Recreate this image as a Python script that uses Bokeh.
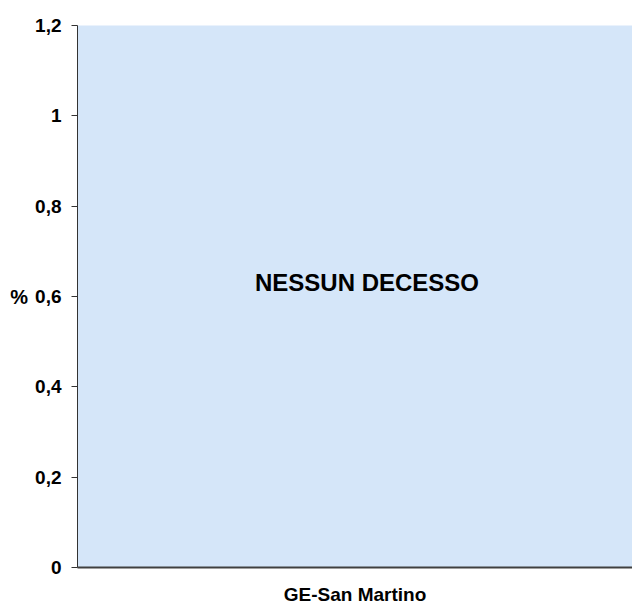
from bokeh.plotting import figure
from bokeh.models import FactorRange, Range1d, FixedTicker, CustomJSTickFormatter, ColumnDataSource
from bokeh.core.properties import value
from bokeh.embed import file_html
from bokeh.resources import INLINE

# ---- data ----
categories = ["GE-San Martino"]
deaths_pct = [0.0]
y_ticks = [0, 0.2, 0.4, 0.6, 0.8, 1.0, 1.2]
y_label = "%"
note_text = ["NESSUN DECESSO"]
note_y = [0.63]

FONT = "Liberation Sans"

p = figure(
    width=632, height=608,
    x_range=FactorRange(*categories, range_padding=0),
    y_range=Range1d(0, 1.2),
    output_backend="svg", toolbar_location=None,
    min_border_left=77, min_border_right=0, min_border_top=25, min_border_bottom=41,
)
p.background_fill_color = "#d5e6f9"
p.border_fill_color = "white"
p.outline_line_color = None
p.xgrid.grid_line_color = None
p.ygrid.grid_line_color = None

src = ColumnDataSource(dict(cat=categories, val=deaths_pct))
p.vbar(x="cat", top="val", width=0.6, source=src, fill_color="#3366cc", line_color=None)

p.text(x=categories, y=note_y, text=note_text, text_align="center", text_baseline="middle",
       text_font=value(FONT), text_font_style="bold", text_font_size="24px",
       text_color="black", x_offset=12)

# y axis
p.yaxis.ticker = FixedTicker(ticks=y_ticks)
p.yaxis.formatter = CustomJSTickFormatter(code="return (Math.round(tick*10)/10).toString().replace('.', ',');")
p.yaxis.minor_tick_line_color = None
p.yaxis.major_tick_in = 0
p.yaxis.major_tick_out = 6
p.yaxis.major_tick_line_color = "#333333"
p.yaxis.axis_line_color = "#333333"
p.yaxis.major_label_text_font = FONT
p.yaxis.major_label_text_font_style = "bold"
p.yaxis.major_label_text_font_size = "19px"
p.yaxis.major_label_text_color = "black"
p.yaxis.major_label_standoff = 10
p.yaxis.axis_label = y_label
p.yaxis.axis_label_orientation = "horizontal"
p.yaxis.axis_label_text_font = FONT
p.yaxis.axis_label_text_font_style = "bold"
p.yaxis.axis_label_text_font_size = "20px"
p.yaxis.axis_label_text_color = "black"
p.yaxis.axis_label_standoff = 4

# x axis
p.xaxis.major_tick_line_color = None
p.xaxis.major_tick_in = 0
p.xaxis.major_tick_out = 0
p.xaxis.axis_line_color = "#404040"
p.xaxis.axis_line_width = 2
p.xaxis.major_label_text_font = FONT
p.xaxis.major_label_text_font_style = "bold"
p.xaxis.major_label_text_font_size = "19px"
p.xaxis.major_label_text_color = "black"
p.xaxis.major_label_standoff = 16

open("out.html", "w").write(file_html(p, INLINE))
